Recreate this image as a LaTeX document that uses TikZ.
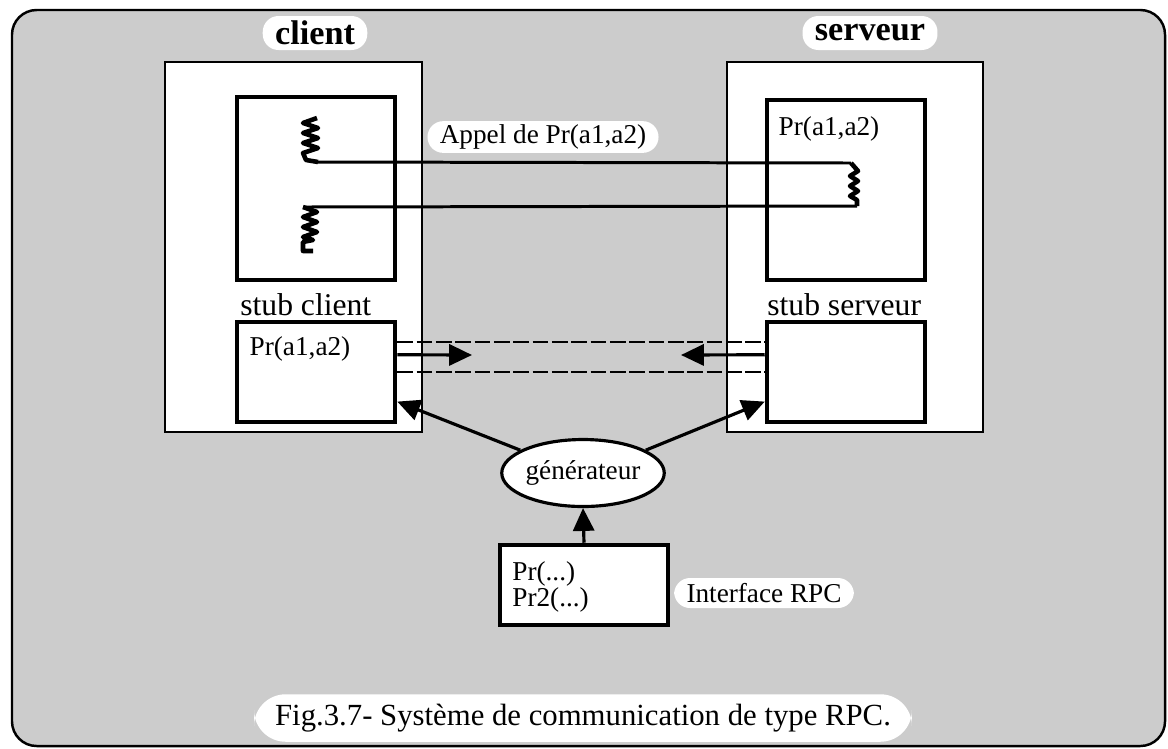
\documentclass[tikz,border=0pt]{standalone}
\usepackage{fontspec}
\setmainfont{Liberation Serif}
\usetikzlibrary{shapes.geometric, arrows.meta}
\tikzset{arrow/.style = {line width=1.8pt,-{Triangle[length=13pt,width=12pt]}}}
\tikzset{pill/.style = {fill=white, rounded corners=9pt, inner xsep=7pt, inner ysep=2pt, minimum height=0.6cm}}
\tikzset{hostbox/.style = {draw, line width=1.1pt, fill=white}}
\tikzset{thickbox/.style = {draw, line width=2.6pt, fill=white}}
\tikzset{wire/.style = {line width=1.7pt, line join=round}}
\tikzset{spring/.style = {line width=2.6pt, line join=round}}
\tikzset{channel/.style = {line width=1.2pt, dash pattern=on 9pt off 2pt}}

\begin{document}
\begin{tikzpicture}[x=0.02cm, y=-0.02cm, font=\fontsize{15.5}{17}\selectfont]
\useasboundingbox (0,0) rectangle (1168,748);
\draw[line width=1.4pt, fill=black!20, rounded corners=14pt] (12,10) rectangle (1165,746);

\node[hostbox, minimum width=5.14cm, minimum height=7.4cm] (chost) at (293.5,247) {};
\node[hostbox, minimum width=5.12cm, minimum height=7.4cm] (shost) at (855,247) {};

\node[thickbox, minimum width=3.16cm, minimum height=3.66cm] (ccall) at (316,188.5) {};
\node[thickbox, minimum width=3.16cm, minimum height=3.6cm] (scall) at (846,190) {};
\node[thickbox, minimum width=3.16cm, minimum height=2cm] (cstub) at (316,372) {};
\node[thickbox, minimum width=3.16cm, minimum height=2cm] (sstub) at (846,372) {};

\node[pill, minimum height=0.68cm, font=\bfseries\fontsize{19.5}{22}\selectfont] (clientlbl) at (315,33) {client};
\node[pill, minimum height=0.68cm, font=\bfseries\fontsize{19.5}{22}\selectfont] (serveurlbl) at (870,33) {serveur};

\node[anchor=south west, inner sep=0pt, font=\fontsize{18}{20}\selectfont] (cstublbl) at (240,316) {stub client};
\node[anchor=south west, inner sep=0pt, font=\fontsize{18}{20}\selectfont] (sstublbl) at (767,316) {stub serveur};
\node (cproc) at (300,349) {Pr(a1,a2)};
\node (sproc) at (829,129) {Pr(a1,a2)};

\coordinate (s1) at (318,162);
\coordinate (s2) at (851,163);
\coordinate (s3) at (857,206);
\coordinate (s4) at (303,207);
\draw[spring] (317,118) -- (303,123) -- (318,128) -- (303,133) -- (318,138) -- (303,143) -- (318,148) -- (303,153) -- (306,160) -- (s1);
\draw[wire] (s1) -- (s2);
\draw[spring] (s2) -- (858,171) -- (850,176) -- (858,181) -- (850,186) -- (858,191) -- (850,196) -- (857,200) -- (s3);
\draw[wire] (s3) -- (s4);
\draw[spring] (s4) -- (317,212) -- (303,217) -- (317,222) -- (303,227) -- (317,232) -- (303,237) -- (313,240) -- (303,242) -- (303,251) -- (313,251);
\node[pill] (appel) at (543,137) {Appel de Pr(a1,a2)};

\coordinate (ctip) at (472,355);
\coordinate (stip) at (681,355);
\draw[channel] (cstub.20) -- (sstub.160);
\draw[channel] (cstub.east) -- (sstub.west);
\draw[arrow] (cstub.12) -- (ctip);
\draw[arrow] (sstub.168) -- (stip);

\node[ellipse, draw, line width=1.8pt, fill=white, minimum width=3.12cm, minimum height=1.34cm, inner sep=0pt] (gen) at (583,473) {générateur};
\draw[arrow] (gen.160) -- (cstub.-20);
\draw[arrow] (gen.20) -- (sstub.200);

\node[thickbox, minimum width=3.36cm, minimum height=1.6cm] (iface) at (584,585) {};
\node[anchor=north west, inner sep=0pt, align=left, font=\fontsize{15.5}{11.5}\selectfont] (ifacetxt) at (512,561) {Pr(...)\\Pr2(...)};
\draw[arrow] (iface.north) -- (gen.south);
\node[pill] (ifacelbl) at (764,593) {Interface RPC};

\node[pill, rounded corners=18pt, minimum height=0.95cm, inner xsep=12pt, font=\fontsize{17.5}{20}\selectfont] (caption) at (583,718) {Fig.3.7- Système de communication de type RPC.};
\end{tikzpicture}
\end{document}
